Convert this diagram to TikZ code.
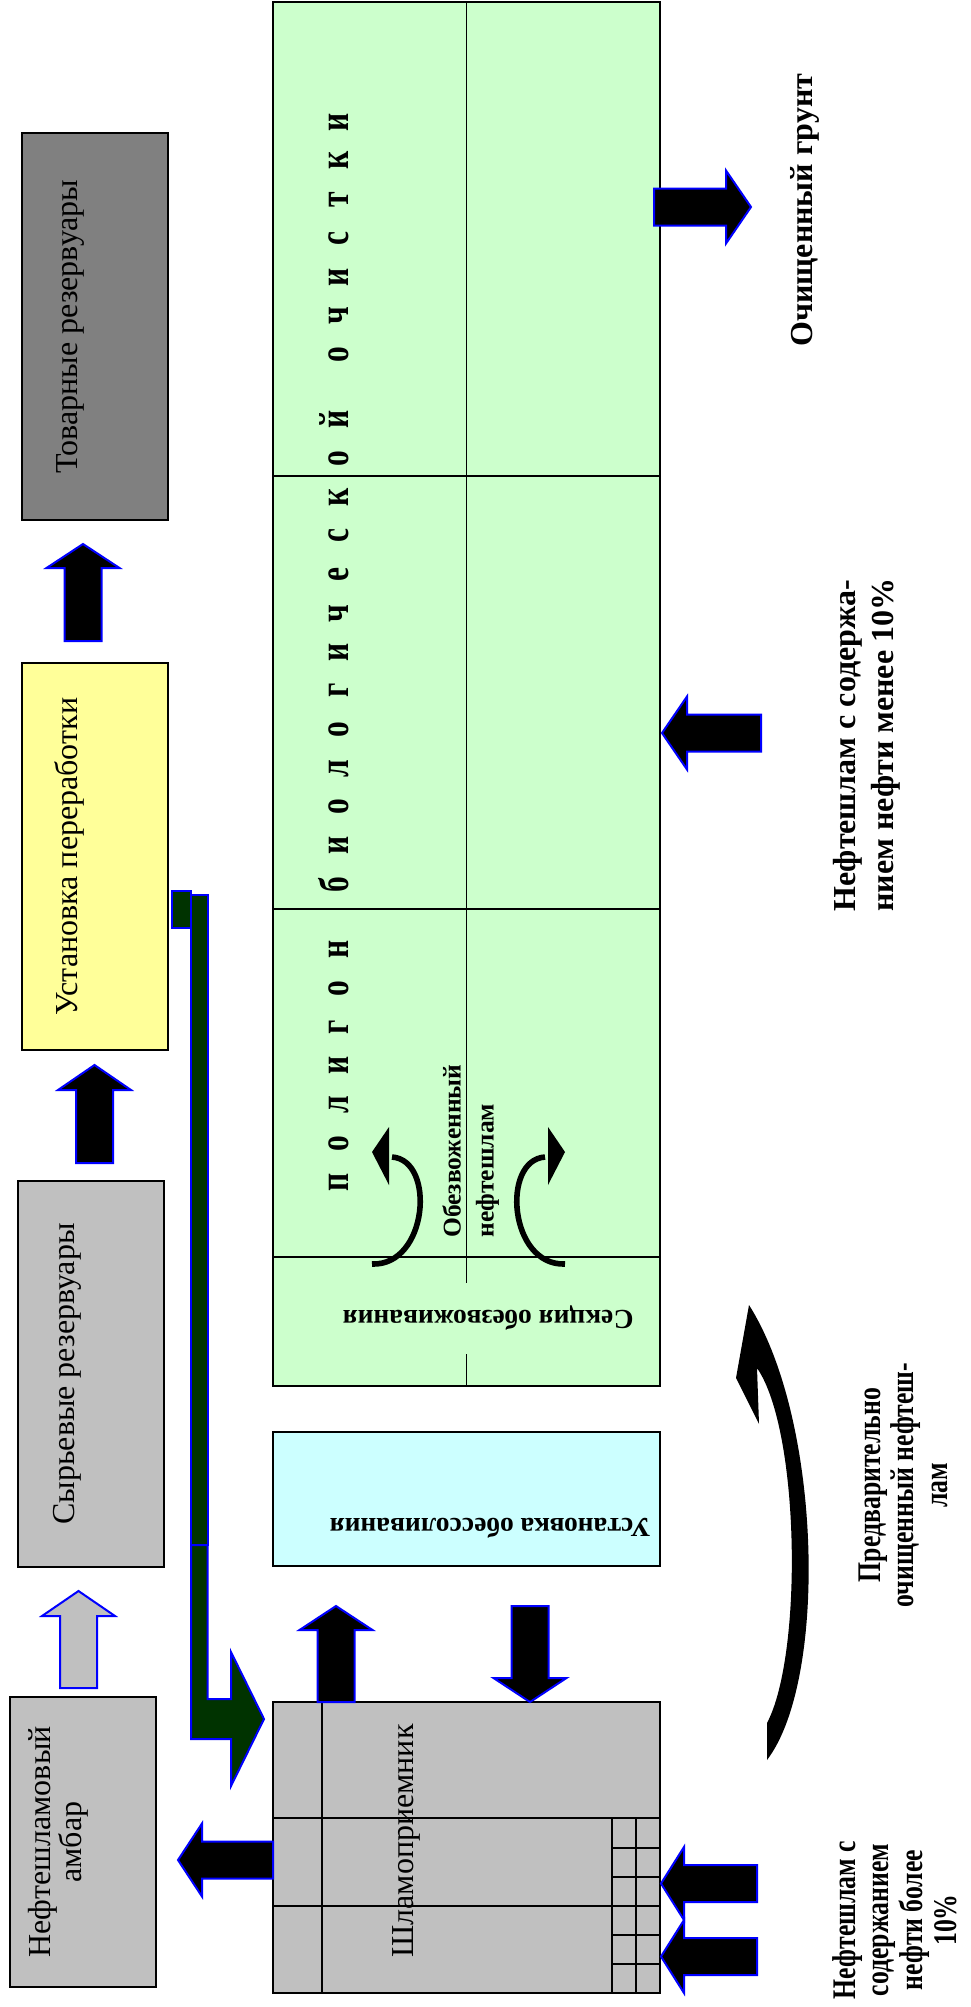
\documentclass[tikz,border=0pt]{standalone}
\usepackage{fontspec}
\setmainfont{Liberation Serif}
\newfontfamily\narrowfont[FakeStretch=0.78]{Liberation Serif}
\newfontfamily\spacedfont[FakeStretch=0.75]{Liberation Serif}
\definecolor{polygreen}{HTML}{CCFFCC}
\definecolor{saltcyan}{HTML}{CCFFFF}
\definecolor{plantyellow}{HTML}{FFFF99}
\definecolor{lgrey}{HTML}{C0C0C0}
\definecolor{dgrey}{HTML}{808080}
\definecolor{pipegreen}{HTML}{003300}
% block arrows: #2 axis, #3 tip, #4 head base, #5 tail
\newcommand{\arrowv}[5][arr]{\draw[#1] (#2-18.5,#5) -- (#2-18.5,#4) -- (#2-36.5,#4) -- (#2,#3) -- (#2+36.5,#4) -- (#2+18.5,#4) -- (#2+18.5,#5) -- cycle}
\newcommand{\arrowh}[5][arr]{\draw[#1] (#5,#2-18.5) -- (#4,#2-18.5) -- (#4,#2-36.5) -- (#3,#2) -- (#4,#2+36.5) -- (#4,#2+18.5) -- (#5,#2+18.5) -- cycle}

\begin{document}
\begin{tikzpicture}[
        x=0.5pt, y=-0.5pt,
        box/.style={draw=black,line width=0.8pt},
        rule/.style={draw=black,line width=0.6pt},
        arr/.style={fill=black,draw=blue,line width=1pt},
        greyarr/.style={arr,fill=lgrey},
        pipe/.style={fill=pipegreen,draw=blue,line width=1pt},
        curl/.style={draw=black,line width=2.8pt},
        lbl/.style={rotate=90,inner sep=0pt,font=\fontsize{16}{15.5}\selectfont},
        blbl/.style={rotate=90,inner sep=0pt,font=\bfseries\fontsize{16}{19}\selectfont},
        nlbl/.style={rotate=90,inner sep=0pt,font=\narrowfont\bfseries\fontsize{16.5}{16.8}\selectfont},
        upside/.style={rotate=180,anchor=base west,inner sep=0pt,font=\bfseries\fontsize{13.75}{16}\selectfont},
        letter/.style={rotate=90,anchor=base,inner sep=0pt,font=\spacedfont\bfseries\fontsize{21}{24}\selectfont}
      ]
      \useasboundingbox (0,0) rectangle (970,2007);

      % polygon
      \draw[box,fill=polygreen] (273,2) rectangle (660,1386);
      \draw[rule] (273,476) -- (660,476);
      \draw[rule] (273,909) -- (660,909);
      \draw[rule] (273,1257) -- (660,1257);
      \draw[rule] (466.5,2) -- (466.5,1283);
      \draw[rule] (466.5,1354) -- (466.5,1386);
      \foreach \ch [count=\i from 0] in {п,о,л,и,г,о,н}
        \node (wa\i) [letter] at (348,1182-38.7*\i) {\ch};
      \foreach \ch [count=\i from 0] in {б,и,о,л,о,г,и,ч,е,с,к,о,й}
        \node (wb\i) [letter] at (348,884.3-38.7*\i) {\ch};
      \foreach \ch [count=\i from 0] in {о,ч,и,с,т,к,и}
        \node (wc\i) [letter] at (348,354.4-38.7*\i) {\ch};
      \node (sekcia) [upside] at (634,1310) {Секция обезвоживания};
      \node (obezv) [rotate=90,anchor=north west,align=left,inner sep=0pt,font=\bfseries\fontsize{12.75}{16.5}\selectfont] at (442,1238) {Обезвоженный\\нефтешлам};
      \draw[curl] (372,1264) .. controls (428,1266) and (436,1160) .. (392,1157);
      \fill (389,1127) -- (372,1152) -- (389,1185) -- cycle;
      \draw[curl] (565,1264) .. controls (509,1266) and (501,1160) .. (545,1157);
      \fill (548,1127) -- (565,1152) -- (548,1185) -- cycle;

      % desalting unit
      \draw[box,fill=saltcyan] (273,1432) rectangle (660,1566);
      \node (obessol) [upside] at (651,1518) {Установка обессоливания};

      % sludge receiver
      \draw[box,fill=lgrey] (273,1702) rectangle (660,1993);
      \draw[rule] (322,1702) -- (322,1993);
      \draw[rule] (273,1818) -- (660,1818);
      \draw[rule] (273,1906) -- (660,1906);
      \draw[rule] (612,1818) -- (612,1993);
      \draw[rule] (636,1818) -- (636,1993);
      \foreach \gy in {1848,1877,1935,1964}
        \draw[rule] (612,\gy) -- (660,\gy);
      \node (shlam) [lbl,anchor=base] at (413,1841) {Шламоприемник};

      % left column
      \draw[box,fill=dgrey] (22,133) rectangle (168,520);
      \node (tovar) [lbl,anchor=base] at (77,326.5) {Товарные резервуары};
      \draw[box,fill=plantyellow] (22,663) rectangle (168,1050);
      \node (ustan) [lbl,anchor=base] at (77,856.5) {Установка переработки};
      \draw[box,fill=lgrey] (18,1181) rectangle (164,1567);
      \node (syr) [lbl,anchor=base] at (74,1374) {Сырьевые резервуары};
      \draw[box,fill=lgrey] (10,1697) rectangle (156,1987);
      \node (ambar) [lbl,align=center] at (58,1842) {Нефтешламовый\\амбар};

      % block arrows
      \arrowv{83}{544}{568}{641};
      \arrowv{94.5}{1065}{1090}{1163};
      \arrowv[greyarr]{78.5}{1591}{1616}{1688};
      \arrowv{336}{1606}{1630}{1702};
      \arrowv{530}{1702}{1678}{1606};
      \arrowh{1860}{178}{202}{273};
      \arrowh{1883.5}{661}{684}{757};
      \arrowh{1956.5}{661}{684}{757};
      \arrowh{733}{662}{687}{761};
      \arrowh{207}{751}{726}{654};

      % pipe from the processing unit
      \draw[pipe] (172,891) rectangle (191,928);
      \draw[pipe] (191,895) rectangle (207.5,1545);
      \draw[pipe] (191,1545) -- (207.5,1545) -- (207.5,1699) -- (231,1699) -- (231,1652) -- (264,1719)
        -- (231,1786) -- (231,1739) -- (191,1739) -- cycle;

      % return arrow
      \fill (767,1760) .. controls (828,1680) and (822,1420) .. (749,1305) -- (736,1378) -- (759,1424)
        -- (757,1368) .. controls (800,1430) and (803,1655) .. (767,1723) -- cycle;

      % right labels
      \node (grunt) [blbl,anchor=base] at (812,210) {Очищенный грунт};
      \node (menee) [blbl,align=left,anchor=north west] at (833,912) {Нефтешлам с содержа-\\нием нефти менее 10\%};
      \node (pred) [nlbl,align=center,anchor=north] at (858,1485) {Предварительно\\очищенный нефтеш-\\лам};
      \node (bolee) [nlbl,align=center,anchor=north] at (832,1920) {Нефтешлам с\\содержанием\\нефти более\\10\%};
    \end{tikzpicture}
\end{document}
